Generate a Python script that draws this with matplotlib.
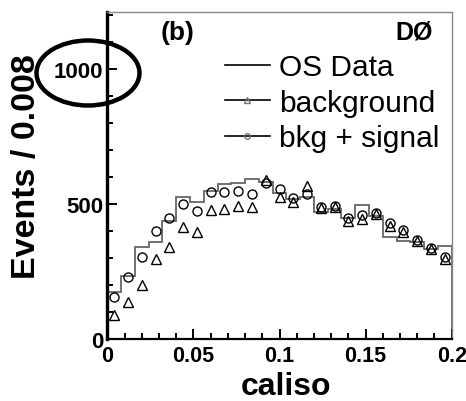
import numpy as np
import matplotlib.pyplot as plt
from matplotlib.lines import Line2D
from matplotlib.patches import Ellipse
from matplotlib.ticker import MultipleLocator, FixedLocator

plt.rcParams['font.family'] = ['Liberation Sans', 'DejaVu Sans']

# caliso histogram, bins of width 0.008 from 0 to 0.2
bin_edges = np.linspace(0.0, 0.2, 26)
os_data = [173, 234, 340, 358, 438, 525, 509, 549, 574, 576, 593, 582, 540,
           520, 525, 470, 480, 450, 495, 455, 378, 364, 360, 335, 345]
background = [89, 138, 200, 296, 340, 414, 395, 478, 481, 494, 488, 590, 525,
              507, 565, 485, 488, 438, 445, 462, 418, 398, 362, 333, 298]
bkg_signal = [154, 228, 302, 401, 447, 500, 473, 546, 546, 549, 537, 578, 556,
              522, 537, 488, 494, 448, 460, 468, 428, 405, 366, 336, 302]

x_ticks = [0, 0.05, 0.1, 0.15, 0.2]
x_tick_labels = ['0', '0.05', '0.1', '0.15', '0.2']
y_ticks = [0, 500, 1000]

centers = 0.5 * (bin_edges[:-1] + bin_edges[1:])

fig = plt.figure(figsize=(4.66, 4.02), dpi=100)
ax = fig.add_axes([0.2303, 0.1542, 0.7390, 0.8127])

# data histogram as a step line
ax.stairs(os_data, bin_edges, color='#666666', linewidth=1.3)
ax.plot(centers, background, linestyle='none', marker='^', markersize=6.5,
        markerfacecolor='none', markeredgecolor='black', markeredgewidth=1.0)
ax.plot(centers, bkg_signal, linestyle='none', marker='o', markersize=6.5,
        markerfacecolor='none', markeredgecolor='black', markeredgewidth=1.0)

ax.set_xlim(0, 0.2)
ax.set_ylim(0, 1210)
ax.xaxis.set_major_locator(FixedLocator(x_ticks))
ax.set_xticklabels(x_tick_labels)
ax.xaxis.set_minor_locator(MultipleLocator(0.01))
ax.yaxis.set_major_locator(FixedLocator(y_ticks))
ax.yaxis.set_minor_locator(MultipleLocator(100))

ax.tick_params(which='both', direction='in', top=False, right=False, width=1.4)
ax.tick_params(which='major', length=7)
ax.tick_params(which='minor', length=4)
ax.tick_params(axis='x', labelsize=15.5, pad=4)
ax.tick_params(axis='y', labelsize=16, pad=3)
for lbl in ax.get_xticklabels() + ax.get_yticklabels():
    lbl.set_fontweight('bold')

ax.spines['left'].set_linewidth(2.4)
ax.spines['bottom'].set_linewidth(1.6)
for side in ('top', 'right'):
    ax.spines[side].set_color('#888888')
    ax.spines[side].set_linewidth(1.0)

ax.set_xlabel('caliso', fontsize=23, fontweight='bold')
ax.xaxis.set_label_coords(0.52, -0.098)
ax.set_ylabel('Events / 0.008', fontsize=24.5, fontweight='bold')
ax.yaxis.set_label_coords(-0.19, 0.53)

ax.text(0.203, 0.94, '(b)', transform=ax.transAxes, fontsize=19,
        fontweight='bold', ha='center', va='center')
ax.text(0.946, 0.94, 'DØ', transform=ax.transAxes, fontsize=18,
        fontweight='bold', ha='right', va='center')

handles = [
    Line2D([], [], color='black', linewidth=1.2),
    Line2D([], [], color='black', linewidth=1.2, marker='^', markersize=4,
           markerfacecolor='none', markeredgecolor='#777777'),
    Line2D([], [], color='black', linewidth=1.2, marker='o', markersize=4,
           markerfacecolor='none', markeredgecolor='#777777'),
]
ax.legend(handles, ['OS Data', 'background', 'bkg + signal'],
          loc='upper left', bbox_to_anchor=(0.342, 0.875), frameon=False,
          fontsize=21.5, handlelength=1.5, handletextpad=0.3,
          labelspacing=0.25, borderpad=0, borderaxespad=0)

# highlight ring around the 1000 label
ring = Ellipse((88 / 466, 1 - 74 / 402), 103 / 466, 65 / 402,
               transform=fig.transFigure, fill=False, edgecolor='black',
               linewidth=3.2, clip_on=False)
fig.add_artist(ring)

fig.savefig('out.png', dpi=100)
